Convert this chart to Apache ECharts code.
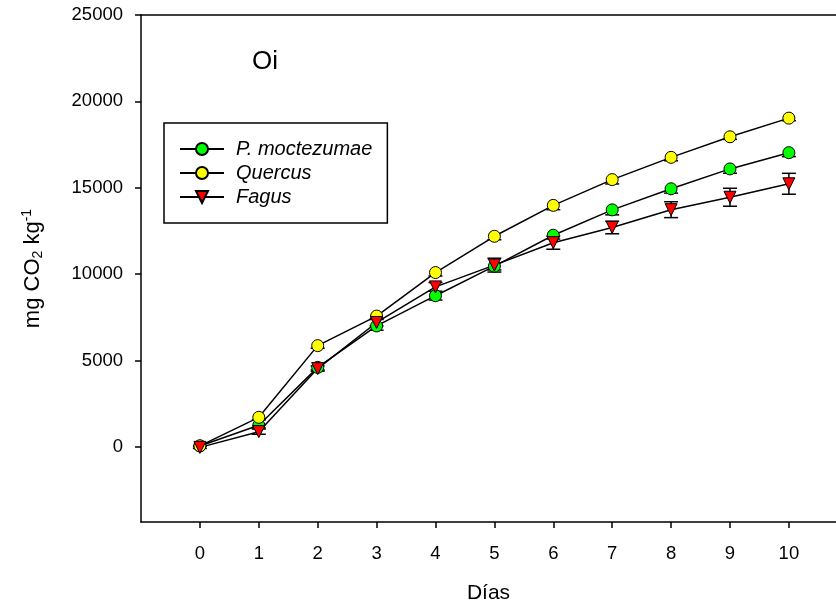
<!DOCTYPE html>
<html>
<head>
<meta charset="utf-8">
<script src="https://cdn.jsdelivr.net/npm/echarts@6/dist/echarts.min.js"></script>
<style>html,body{margin:0;padding:0;background:#fff}#c{width:836px;height:609px}</style>
</head>
<body>
<div id="c"></div>
<script>
// ---- data ----
var days = [0, 1, 2, 3, 4, 5, 6, 7, 8, 9, 10];
var xTicks = [0, 1, 2, 3, 4, 5, 6, 7, 8, 9, 10];
var yTicks = [0, 5000, 10000, 15000, 20000, 25000];
var seriesNames = ['P. moctezumae', 'Quercus', 'Fagus'];
var pmoct = [50, 1250, 4600, 7000, 8750, 10460, 12250, 13720, 14940, 16090, 17030];
var quercus = [60, 1710, 5860, 7570, 10090, 12190, 13980, 15470, 16760, 17950, 19030];
var fagus = [-30, 880, 4530, 7200, 9260, 10520, 11820, 12700, 13730, 14450, 15230];
var pmoctErrLow = [0, 150, 150, 250, 250, 220, 220, 290, 250, 250, 230];
var pmoctErrHigh = [0, 0, 0, 0, 0, 0, 0, 0, 0, 0, 0];
var quercusErrLow = [0, 150, 150, 200, 200, 200, 250, 250, 200, 150, 150];
var quercusErrHigh = [0, 0, 0, 0, 0, 0, 0, 0, 0, 0, 0];
var fagusErr = [60, 150, 150, 200, 250, 400, 380, 365, 460, 520, 605];
var title = 'Oi';

var FONT = 'Arial, "Liberation Sans", sans-serif';
function pairs(ys) { return days.map(function (d, i) { return [d, ys[i]]; }); }
function errData2(ys, lo, hi) { return days.map(function (d, i) { return [d, ys[i] - lo[i], ys[i] + hi[i], ys[i]]; }); }

function errRender(params, api) {
  var x = api.value(0), lo = api.value(1), hi = api.value(2);
  var p1 = api.coord([x, lo]), p2 = api.coord([x, hi]);
  var mid = api.coord([x, api.value(3)]);
  var hw = 7;
  var st = { stroke: '#000', lineWidth: 1.5, fill: null };
  var children = [];
  if (Math.abs(p1[1] - p2[1]) > 0.5) {
    children.push({ type: 'line', shape: { x1: p1[0], y1: p1[1], x2: p2[0], y2: p2[1] }, style: st });
  }
  if (Math.abs(p1[1] - mid[1]) > 0.5) children.push({ type: 'line', shape: { x1: p1[0] - hw, y1: p1[1], x2: p1[0] + hw, y2: p1[1] }, style: st });
  if (Math.abs(p2[1] - mid[1]) > 0.5) children.push({ type: 'line', shape: { x1: p2[0] - hw, y1: p2[1], x2: p2[0] + hw, y2: p2[1] }, style: st });
  return { type: 'group', children: children };
}

var chart = echarts.init(document.getElementById('c'), null, { renderer: 'canvas' });
var lineStyle = { color: '#000', width: 1.5 };
function lineSeries(name, ys, color, symbol, rotate) {
  return {
    name: name, type: 'line', data: pairs(ys), symbol: symbol, symbolSize: 12, symbolRotate: rotate || 0,
    showAllSymbol: true, lineStyle: lineStyle, z: 3,
    itemStyle: { color: color, borderColor: '#000', borderWidth: 1 },
    emphasis: { disabled: true }, animation: false
  };
}
var plainLabel = function (v) { return String(v); };

chart.setOption({
  animation: false,
  backgroundColor: '#fff',
  grid: { left: 141, top: 15, right: 0, bottom: 86, show: false },
  graphic: [{ type: 'text', left: 252, top: 49, style: { text: title, font: '26px Arial, "Liberation Sans", sans-serif', fill: '#000' } }],
  legend: {
    orient: 'vertical', left: 164, top: 123, padding: [15, 15, 15, 15],
    borderColor: '#000', borderWidth: 1.5, itemWidth: 44, itemHeight: 15, itemGap: 2,
    data: seriesNames,
    textStyle: { fontFamily: FONT, fontStyle: 'italic', fontSize: 20, color: '#000', lineHeight: 22, padding: [0, 0, 0, 7] },
    symbolRotate: 'inherit'
  },
  xAxis: [{
    type: 'value', min: -1, max: 10.8, name: 'Días', nameLocation: 'middle', nameGap: 61,
    nameTextStyle: { fontFamily: FONT, fontSize: 21, color: '#000' },
    axisLine: { show: true, onZero: false, lineStyle: { color: '#000', width: 1.5 } },
    axisTick: { show: true, length: 6, customValues: xTicks, lineStyle: { color: '#000', width: 1.5 } },
    axisLabel: { customValues: xTicks, margin: 22, formatter: plainLabel, fontFamily: FONT, fontSize: 18.5, color: '#000' },
    splitLine: { show: false }
  }, {
    type: 'value', position: 'top', min: -1, max: 10.8,
    axisLine: { show: true, onZero: false, lineStyle: { color: '#000', width: 1.5 } },
    axisTick: { show: false }, axisLabel: { show: false }, splitLine: { show: false }
  }],
  yAxis: {
    type: 'value', min: -4350, max: 25000, name: 'mg CO{sub|2} kg{sup|-1}', nameLocation: 'middle', nameGap: 96, nameRotate: 90,
    nameTextStyle: {
      fontFamily: FONT, fontSize: 22, color: '#000',
      rich: {
        sub: { fontSize: 14, verticalAlign: 'bottom', padding: [11, 0, 0, 0], fontFamily: FONT, color: '#000' },
        sup: { fontSize: 14, verticalAlign: 'top', padding: [0, 0, 11, 0], fontFamily: FONT, color: '#000' }
      }
    },
    axisLine: { show: true, onZero: false, lineStyle: { color: '#000', width: 1.5 } },
    axisTick: { show: true, length: 6, customValues: yTicks, lineStyle: { color: '#000', width: 1.5 } },
    axisLabel: { customValues: yTicks, margin: 18, formatter: plainLabel, fontFamily: FONT, fontSize: 18.5, color: '#000' },
    splitLine: { show: false }
  },
  series: [
    { type: 'custom', renderItem: errRender, data: errData2(pmoct, pmoctErrLow, pmoctErrHigh), z: 2, silent: true },
    { type: 'custom', renderItem: errRender, data: errData2(quercus, quercusErrLow, quercusErrHigh), z: 2, silent: true },
    { type: 'custom', renderItem: errRender, data: errData2(fagus, fagusErr, fagusErr), z: 2, silent: true },
    lineSeries(seriesNames[0], pmoct, '#00FF00', 'circle'),
    lineSeries(seriesNames[1], quercus, '#FFFF00', 'circle'),
    lineSeries(seriesNames[2], fagus, '#FF0000', 'triangle', 180)
  ]
});
</script>
</body>
</html>
